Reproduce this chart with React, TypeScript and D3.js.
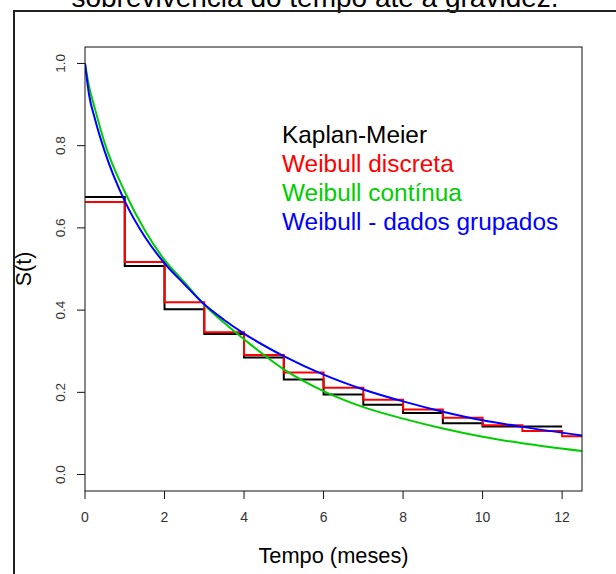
import React from 'react';
import * as d3 from 'd3';

// Kaplan-Meier steps, one value per month interval [t, t+1)
const kmStarts = [0, 1, 2, 3, 4, 5, 6, 7, 8, 9, 10, 11];
const kmSurv = [0.675, 0.507, 0.402, 0.342, 0.285, 0.231, 0.195, 0.170, 0.150, 0.125, 0.117, 0.117];
const kmEnd = 12;

// Weibull discreta steps
const wdStarts = [0, 1, 2, 3, 4, 5, 6, 7, 8, 9, 10, 11, 12];
const wdSurv = [0.663, 0.517, 0.419, 0.346, 0.291, 0.248, 0.211, 0.182, 0.158, 0.138, 0.120, 0.106, 0.093];
const wdEnd = 12.5;

// continuous curves
const curveTimes = [0, 0.1, 0.25, 0.5, 1, 1.5, 2, 2.5, 3, 3.5, 4, 5, 6, 7, 8, 9, 10, 11, 12.5];
const wcSurv = [1.0, 0.945, 0.89, 0.805, 0.688, 0.595, 0.522, 0.468, 0.413, 0.369, 0.329, 0.256, 0.203, 0.164, 0.136, 0.112, 0.092, 0.076, 0.057];
const wgSurv = [1.0, 0.925, 0.865, 0.785, 0.665, 0.579, 0.514, 0.463, 0.414, 0.376, 0.343, 0.288, 0.243, 0.207, 0.178, 0.153, 0.132, 0.116, 0.095];

const xTicks = [0, 2, 4, 6, 8, 10, 12];
const yTicks = [0, 0.2, 0.4, 0.6, 0.8, 1.0];

const legendLabels = ['Kaplan-Meier', 'Weibull discreta', 'Weibull contínua', 'Weibull - dados grupados'];
const legendColors = ['#000000', '#ff0000', '#00cd00', '#0000ff'];

const FONT = '"Liberation Sans", Arial, sans-serif';

const App: React.FC = () => {
    const width = 616;
    const height = 574;

    // plot box
    const left = 85, right = 582, top = 47, bottom = 491;

    const x = d3.scaleLinear().domain([0, 12.5]).range([left, right]);
    const y = d3.scaleLinear().domain([-0.04, 1.04]).range([bottom, top]);

    const stepLine = d3.line<[number, number]>()
        .x(d => x(d[0]))
        .y(d => y(d[1]))
        .curve(d3.curveStepAfter);

    const smoothLine = d3.line<[number, number]>()
        .x(d => x(d[0]))
        .y(d => y(d[1]))
        .curve(d3.curveMonotoneX);

    const kmPts: [number, number][] = kmStarts.map((t, i) => [t, kmSurv[i]] as [number, number]);
    kmPts.push([kmEnd, kmSurv[kmSurv.length - 1]]);
    const wdPts: [number, number][] = wdStarts.map((t, i) => [t, wdSurv[i]] as [number, number]);
    wdPts.push([wdEnd, wdSurv[wdSurv.length - 1]]);
    const wcPts: [number, number][] = curveTimes.map((t, i) => [t, wcSurv[i]] as [number, number]);
    const wgPts: [number, number][] = curveTimes.map((t, i) => [t, wgSurv[i]] as [number, number]);

    return (
        <svg width={width} height={height}
            style={{ position: 'absolute', left: 0, top: 0, background: '#fff', fontFamily: FONT }}>
            <rect x={0} y={0} width={width} height={height} fill="#fff" />

            {/* title, cut by the top of the screenshot */}
            <text x={315} y={7} textAnchor="middle" fontSize={28} fill="#000">
                sobrevivência do tempo até a gravidez.
            </text>

            {/* outer frame */}
            <line x1={14} x2={14} y1={11} y2={height} stroke="#222" strokeWidth={2} />
            <line x1={13} x2={width} y1={11} y2={11} stroke="#222" strokeWidth={2} />

            <defs>
                <clipPath id="plot-clip">
                    <rect x={left} y={top} width={right - left} height={bottom - top} />
                </clipPath>
            </defs>

            <g clipPath="url(#plot-clip)" fill="none" strokeWidth={2}>
                <path d={stepLine(kmPts) ?? ''} stroke={legendColors[0]} />
                <path d={stepLine(wdPts) ?? ''} stroke={legendColors[1]} />
                <path d={smoothLine(wcPts) ?? ''} stroke={legendColors[2]} />
                <path d={smoothLine(wgPts) ?? ''} stroke={legendColors[3]} />
            </g>

            {/* box */}
            <rect x={left} y={top} width={right - left} height={bottom - top} fill="none" stroke="#111" strokeWidth={1} />

            {/* x axis */}
            {xTicks.map(t => (
                <g key={'x' + t}>
                    <line x1={x(t)} x2={x(t)} y1={bottom} y2={bottom + 8} stroke="#111" />
                    <text x={x(t)} y={522} textAnchor="middle" fontSize={14} fill="#333">{t}</text>
                </g>
            ))}

            {/* y axis */}
            {yTicks.map(v => (
                <g key={'y' + v}>
                    <line x1={left - 8} x2={left} y1={y(v)} y2={y(v)} stroke="#111" />
                    <text transform={`translate(65,${y(v)}) rotate(-90)`} textAnchor="middle" fontSize={13.5} fill="#333">
                        {v.toFixed(1)}
                    </text>
                </g>
            ))}

            <text x={(left + right) / 2} y={563} textAnchor="middle" fontSize={21.8} fill="#000">Tempo (meses)</text>
            <text transform={`translate(31,${(top + bottom) / 2}) rotate(-90)`} textAnchor="middle" fontSize={21.5} fill="#000">S(t)</text>

            {/* legend */}
            {legendLabels.map((lab, i) => (
                <text key={lab} x={282} y={143 + i * 29} fontSize={24.4} fill={legendColors[i]}>{lab}</text>
            ))}
        </svg>
    );
};

export default App;
